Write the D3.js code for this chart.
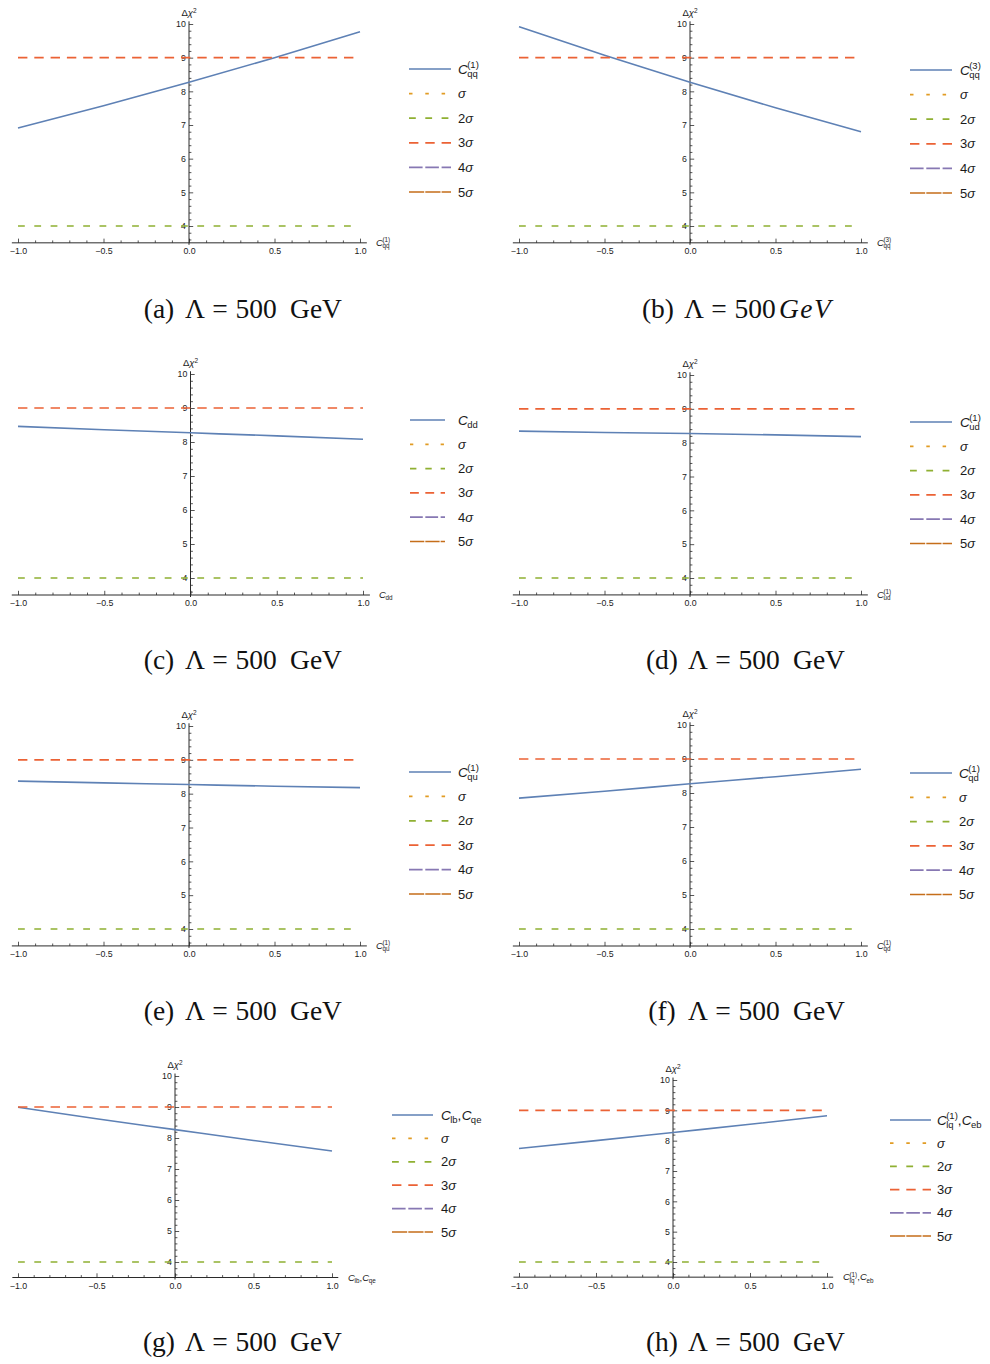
<!DOCTYPE html>
<html>
<head>
<meta charset="utf-8">
<script src="https://cdn.jsdelivr.net/npm/d3@7"></script>
<style>
  body { margin: 0; background: #fff; }
  svg { display: block; }
  .tick text { font-family: "Liberation Sans", Arial, sans-serif; }
</style>
</head>
<body>
<svg id="fig" width="990" height="1364"></svg>
<script>
// ---- data ---------------------------------------------------------------
// Wilson-coefficient values where the Δχ² curves are sampled
const coeffSamples = [-1, -0.5, 0, 0.5, 1];

// Δχ² at each sample, one array per operator scan
const chiQq1   = [6.91, 7.57, 8.27, 9.00, 9.77];
const chiQq3   = [9.92, 9.07, 8.27, 7.51, 6.80];
const chiDd    = [8.46, 8.36, 8.27, 8.18, 8.08];
const chiUd1   = [8.34, 8.30, 8.27, 8.23, 8.18];
const chiQu1   = [8.37, 8.32, 8.27, 8.22, 8.18];
const chiQd1   = [7.85, 8.05, 8.27, 8.48, 8.70];
const chiLbQe  = [8.99, 8.62, 8.27, 7.92, 7.58];
const chiLq1Eb = [7.74, 8.00, 8.27, 8.54, 8.82];

// significance reference levels (Δχ² = n²)
const sigmaLevels = [1, 4, 9, 16, 25];
const sigmaNames  = ["σ", "2σ", "3σ", "4σ", "5σ"];

// axis ticks
const xMajorTicks = [-1, -0.5, 0, 0.5, 1];
const yMajorTicks = [4, 5, 6, 7, 8, 9, 10];

// operator labels: base symbol, subscript, superscript
const symQq1   = [{ b: "C", sub: "qq", sup: "(1)" }];
const symQq3   = [{ b: "C", sub: "qq", sup: "(3)" }];
const symDd    = [{ b: "C", sub: "dd" }];
const symUd1   = [{ b: "C", sub: "ud", sup: "(1)" }];
const symQu1   = [{ b: "C", sub: "qu", sup: "(1)" }];
const symQd1   = [{ b: "C", sub: "qd", sup: "(1)" }];
const symLbQe  = [{ b: "C", sub: "lb" }, { b: "C", sub: "qe" }];
const symLq1Eb = [{ b: "C", sub: "lq", sup: "(1)" }, { b: "C", sub: "eb" }];

const panelLetters = ["a", "b", "c", "d", "e", "f", "g", "h"];
const scaleTexts   = ["500 GeV", "500GeV", "500 GeV", "500 GeV", "500 GeV", "500 GeV", "500 GeV", "500 GeV"];

// ---- styling --------------------------------------------------------------
const curveColor  = "#5E81B5";
const sigmaColors = ["#E19C24", "#8FB032", "#EB6235", "#8778B3", "#C56E1A"];
const sigmaDash   = [[3.5, 12.8], [6.8, 9.5], [9.4, 6.9], [13.6, 2.7], [15.2, 1.1]];
const axisColor   = "#2b2b2b";
const sansFont    = '"Liberation Sans", Arial, sans-serif';
const serifFont   = '"Liberation Serif", "Times New Roman", serif';

// panel placement on the page
const panels = [
  { vals: chiQq1,   sym: symQq1,   px0: 18,  px1: 360, py10: 24,   py4: 226,  legX: 409, legLen: 42, legTx: 458, legY: 69,   legDy: 24.6, dashK: 1,    capX: 244, capY: 318 },
  { vals: chiQq3,   sym: symQq3,   px0: 519, px1: 861, py10: 24,   py4: 226,  legX: 910, legLen: 42, legTx: 960, legY: 70,   legDy: 24.6, dashK: 1,    capX: 743, capY: 318 },
  { vals: chiDd,    sym: symDd,    px0: 18,  px1: 363, py10: 374,  py4: 578,  legX: 410, legLen: 35, legTx: 458, legY: 420,  legDy: 24.3, dashK: 0.94, capX: 244, capY: 669 },
  { vals: chiUd1,   sym: symUd1,   px0: 519, px1: 861, py10: 375,  py4: 578,  legX: 910, legLen: 42, legTx: 960, legY: 422,  legDy: 24.3, dashK: 1,    capX: 747, capY: 669 },
  { vals: chiQu1,   sym: symQu1,   px0: 18,  px1: 360, py10: 726,  py4: 929,  legX: 409, legLen: 42, legTx: 458, legY: 772,  legDy: 24.4, dashK: 1,    capX: 244, capY: 1020 },
  { vals: chiQd1,   sym: symQd1,   px0: 519, px1: 861, py10: 725,  py4: 929,  legX: 910, legLen: 42, legTx: 959, legY: 773,  legDy: 24.3, dashK: 1,    capX: 747, capY: 1020 },
  { vals: chiLbQe,  sym: symLbQe,  px0: 18,  px1: 332, py10: 1076, py4: 1262, legX: 392, legLen: 41, legTx: 441, legY: 1115, legDy: 23.4, dashK: 1,    capX: 244, capY: 1351 },
  { vals: chiLq1Eb, sym: symLq1Eb, px0: 519, px1: 827, py10: 1080, py4: 1262, legX: 890, legLen: 41, legTx: 937, legY: 1120, legDy: 23.2, dashK: 1,    capX: 747, capY: 1351 }
];

const svg = d3.select("#fig");

// Writes an operator symbol such as C_qq^(1) with stacked sub/superscripts.
function drawSymbol(g, x, y, terms, fs, subFs) {
  let cx = x;
  terms.forEach((t, i) => {
    if (i > 0) {
      const c = g.append("text").attr("x", cx).attr("y", y)
        .style("font-family", sansFont).style("font-size", fs + "px").attr("fill", "#1a1a1a").text(",");
      cx += c.node().getComputedTextLength() + fs * 0.02;
    }
    const b = g.append("text").attr("x", cx).attr("y", y)
      .style("font-family", sansFont).style("font-style", "italic")
      .style("font-size", fs + "px").attr("fill", "#1a1a1a").text(t.b);
    cx += b.node().getComputedTextLength() - fs * 0.04;
    let w = 0;
    if (t.sub) {
      const s = g.append("text").attr("x", cx).attr("y", y + fs * 0.24)
        .style("font-family", sansFont).style("font-size", subFs + "px").attr("fill", "#1a1a1a").text(t.sub);
      w = Math.max(w, s.node().getComputedTextLength());
    }
    if (t.sup) {
      const s = g.append("text").attr("x", cx).attr("y", y - fs * 0.40)
        .style("font-family", sansFont).style("font-size", subFs + "px").attr("fill", "#1a1a1a").text(t.sup);
      w = Math.max(w, s.node().getComputedTextLength());
    }
    cx += w;
  });
  return cx;
}

panels.forEach((p, idx) => {
  const g = svg.append("g");
  const x = d3.scaleLinear().domain([-1, 1]).range([p.px0, p.px1]);
  const y = d3.scaleLinear().domain([4, 10]).range([p.py4, p.py10]);
  const yAxisPos = y(3.5);
  const xZero = x(0);

  // --- x axis (ticks pointing up, labels below)
  const xAxisG = g.append("g").attr("transform", `translate(0,${yAxisPos})`);
  xAxisG.call(d3.axisBottom(x).tickValues(d3.range(-10, 11).map(v => v / 10).filter(v => !xMajorTicks.includes(v)))
      .tickSize(-2.4).tickFormat(""));
  xAxisG.call(g2 => g2.select(".domain").remove());
  const xAxisMajor = g.append("g").attr("transform", `translate(0,${yAxisPos})`)
    .call(d3.axisBottom(x).tickValues(xMajorTicks).tickSize(-4.2).tickPadding(3)
      .tickFormat(d => d3.format(".1f")(d).replace("-", "\u2212")));
  xAxisMajor.select(".domain").remove();
  [xAxisG, xAxisMajor].forEach(a => a.selectAll("line").attr("stroke", axisColor).attr("stroke-width", 0.8));
  xAxisMajor.selectAll("text").style("font-size", "8.8px").attr("fill", "#222").attr("dy", "0.95em");
  g.append("line").attr("x1", x(-1.036)).attr("x2", x(1.04))
    .attr("y1", yAxisPos).attr("y2", yAxisPos).attr("stroke", axisColor).attr("stroke-width", 1);

  // --- y axis (ticks pointing right, labels left)
  const yMinor = d3.range(18, 51).map(v => v / 5).filter(v => !yMajorTicks.includes(v));
  const yAxisMinor = g.append("g").attr("transform", `translate(${xZero},0)`)
    .call(d3.axisLeft(y).tickValues(yMinor).tickSize(-2.4).tickFormat(""));
  yAxisMinor.select(".domain").remove();
  const yAxisMajor = g.append("g").attr("transform", `translate(${xZero},0)`)
    .call(d3.axisLeft(y).tickValues(yMajorTicks).tickSize(-4.2).tickPadding(3.2).tickFormat(d3.format("d")));
  yAxisMajor.select(".domain").remove();
  [yAxisMinor, yAxisMajor].forEach(a => a.selectAll("line").attr("stroke", axisColor).attr("stroke-width", 0.8));
  yAxisMajor.selectAll("text").style("font-size", "8.8px").attr("fill", "#222");
  g.append("line").attr("x1", xZero).attr("x2", xZero)
    .attr("y1", y(10.08)).attr("y2", yAxisPos + 2).attr("stroke", axisColor).attr("stroke-width", 1);

  // --- axis labels
  const yl = g.append("text").attr("x", xZero).attr("y", p.py10 - 8).attr("text-anchor", "middle")
    .style("font-family", sansFont).style("font-size", "9.5px").attr("fill", "#1a1a1a");
  yl.append("tspan").text("Δ");
  yl.append("tspan").style("font-style", "italic").text("χ");
  yl.append("tspan").attr("dy", "-0.45em").style("font-size", "6.5px").text("2");
  drawSymbol(g, p.px1 + 16, yAxisPos + 3.2, p.sym, 9.5, 6.3);

  // --- Δχ² curve
  const line = d3.line().x((d, i) => x(coeffSamples[i])).y(d => y(d)).curve(d3.curveMonotoneX);
  g.append("path").datum(p.vals).attr("d", line)
    .attr("fill", "none").attr("stroke", curveColor).attr("stroke-width", 1.6);

  // --- significance levels inside the plotted range
  sigmaLevels.forEach((lv, i) => {
    if (lv < 3.5 || lv > 10) return;
    g.append("line").attr("x1", x(-1)).attr("x2", x(1)).attr("y1", y(lv)).attr("y2", y(lv))
      .attr("stroke", sigmaColors[i]).attr("stroke-width", 1.7)
      .attr("stroke-dasharray", sigmaDash[i].join(","));
  });

  // --- legend
  const leg = g.append("g");
  leg.append("line").attr("x1", p.legX).attr("x2", p.legX + p.legLen)
    .attr("y1", p.legY).attr("y2", p.legY).attr("stroke", curveColor).attr("stroke-width", 1.6);
  drawSymbol(leg, p.legTx, p.legY + 4.6, p.sym, 13.5, 9.5);
  sigmaNames.forEach((nm, i) => {
    const ry = p.legY + p.legDy * (i + 1);
    leg.append("line").attr("x1", p.legX).attr("x2", p.legX + p.legLen)
      .attr("y1", ry).attr("y2", ry).attr("stroke", sigmaColors[i]).attr("stroke-width", 1.7)
      .attr("stroke-dasharray", sigmaDash[i].map(v => v * p.dashK).join(","));
    const t = leg.append("text").attr("x", p.legTx).attr("y", ry + 4.5)
      .style("font-family", sansFont).style("font-size", "13px").attr("fill", "#1a1a1a");
    if (nm.length > 1) t.append("tspan").text(nm.slice(0, -1));
    t.append("tspan").style("font-style", "italic").text("σ");
  });

  // --- caption
  const cap = g.append("g").style("font-family", serifFont).style("font-size", "27.5px").attr("fill", "#111");
  const cx = p.capX, cy = p.capY;
  cap.append("text").attr("x", cx - 85).attr("y", cy).attr("text-anchor", "middle").text(`(${panelLetters[idx]})`);
  cap.append("text").attr("x", cx - 49).attr("y", cy).attr("text-anchor", "middle").text("Λ");
  cap.append("text").attr("x", cx - 24).attr("y", cy).attr("text-anchor", "middle").text("=");
  if (scaleTexts[idx] === "500GeV") {
    cap.append("text").attr("x", cx + 12).attr("y", cy).attr("text-anchor", "middle").text("500");
    cap.append("text").attr("x", cx + 36).attr("y", cy).style("font-style", "italic")
      .style("letter-spacing", "1.5px").text("GeV");
  } else {
    const parts = scaleTexts[idx].split(" ");
    cap.append("text").attr("x", cx + 12).attr("y", cy).attr("text-anchor", "middle").text(parts[0]);
    cap.append("text").attr("x", cx + 72).attr("y", cy).attr("text-anchor", "middle").text(parts[1]);
  }
});
</script>
</body>
</html>
